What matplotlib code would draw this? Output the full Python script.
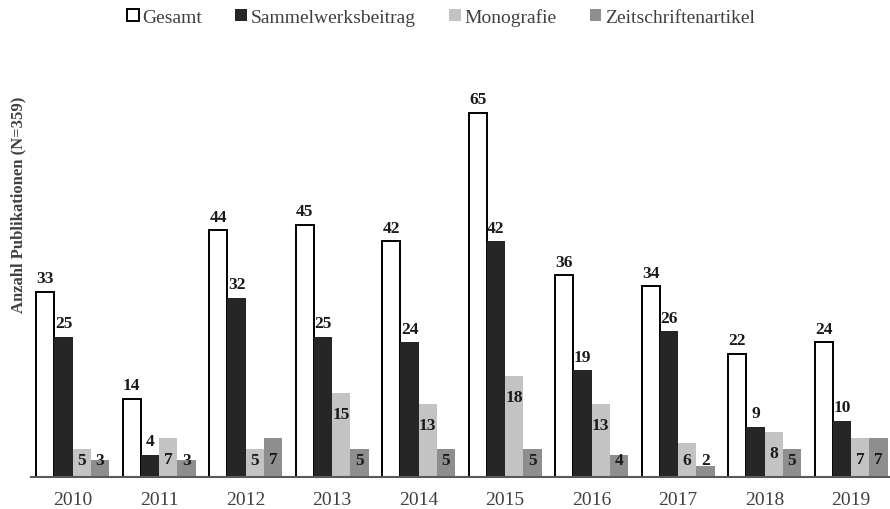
import numpy as np
import matplotlib
matplotlib.use("Agg")
import matplotlib.pyplot as plt

plt.rcParams["font.family"] = ["Liberation Serif", "DejaVu Serif"]

years = ["2010", "2011", "2012", "2013", "2014", "2015", "2016", "2017", "2018", "2019"]
gesamt = [33, 14, 44, 45, 42, 65, 36, 34, 22, 24]
sammelwerk = [25, 4, 32, 25, 24, 42, 19, 26, 9, 10]
monografie = [5, 7, 5, 15, 13, 18, 13, 6, 8, 7]
zeitschrift = [3, 3, 7, 5, 5, 5, 4, 2, 5, 7]

series = [
    ("Gesamt", gesamt, "white", "black", "outside"),
    ("Sammelwerksbeitrag", sammelwerk, "#262626", "none", "outside"),
    ("Monografie", monografie, "#c3c3c3", "none", "inside"),
    ("Zeitschriftenartikel", zeitschrift, "#8e8e8e", "none", "inside"),
]

fig = plt.figure(figsize=(8.9, 5.1), dpi=100)
ax = fig.add_axes([0.035, 0.0627, 0.965, 0.751])

x = np.arange(len(years))
w = 0.211
for i, (name, vals, fc, ec, pos) in enumerate(series):
    xs = x + (i - 1.5) * w
    ax.bar(xs, vals, width=w, color=fc, edgecolor=ec, linewidth=1.4 if ec != "none" else 0,
           label=name, zorder=2)
    for xi, v in zip(xs, vals):
        if pos == "outside":
            ax.annotate(str(v), (xi, v), xytext=(0, 4), textcoords="offset points",
                        ha="center", va="bottom", fontsize=12.5, fontweight="bold", color="#1a1a1a")
        else:
            ax.text(xi, max(v - 3.7, 3), str(v), ha="center", va="center",
                    fontsize=12.5, fontweight="bold", color="#1a1a1a", zorder=3)

ax.set_xlim(-0.48, 9.45)
ax.set_ylim(0, 68.3)
ax.set_xticks(x)
ax.set_xticklabels(years, fontsize=14, color="#404040")
ax.tick_params(axis="x", length=0, pad=10)
ax.set_yticks([])
for s in ["top", "right", "left"]:
    ax.spines[s].set_visible(False)
ax.spines["bottom"].set_color("#5a5a5a")
ax.spines["bottom"].set_linewidth(1.5)

fig.text(18 / 890, 1 - 205 / 510, "Anzahl Publikationen (N=359)", rotation=90,
         ha="center", va="center", fontsize=12, fontweight="bold", color="#404040")

fig.legend(loc="center", bbox_to_anchor=(441 / 890, 1 - 18 / 510), ncol=4, frameon=False,
           fontsize=14, handlelength=0.6, handleheight=0.6, handletextpad=0.2,
           columnspacing=1.7, labelcolor="#404040")

fig.savefig("out.png", dpi=100)
